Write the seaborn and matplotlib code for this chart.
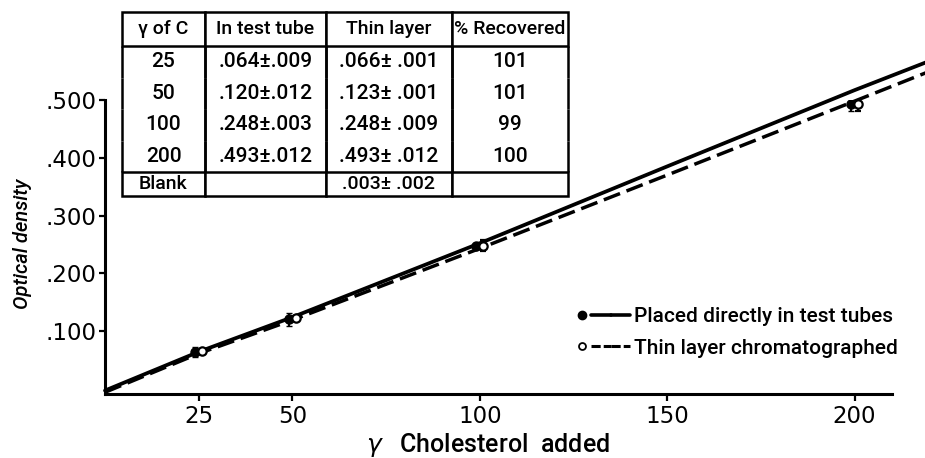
import matplotlib
matplotlib.use("Agg")
import matplotlib.pyplot as plt
import seaborn as sns
from matplotlib.lines import Line2D
from matplotlib.legend_handler import HandlerTuple
from matplotlib.transforms import ScaledTranslation

# measured values (table in the figure)
chol_added = [25, 50, 100, 200]
od_test_tube = [0.064, 0.120, 0.248, 0.493]
sd_test_tube = [0.009, 0.012, 0.003, 0.012]
od_thin_layer = [0.066, 0.123, 0.248, 0.493]
sd_thin_layer = [0.001, 0.001, 0.009, 0.012]
pct_recovered = [101, 101, 99, 100]
blank_thin_layer = [0.003, 0.002]

# hand-drawn lines
line_x = [0, 25, 50, 100, 150, 200, 219]
line_direct = [-0.003, 0.064, 0.124, 0.252, 0.385, 0.517, 0.565]
line_tlc = [-0.006, 0.061, 0.119, 0.243, 0.370, 0.498, 0.547]

xticks = [25, 50, 100, 150, 200]
yticks = [0.1, 0.2, 0.3, 0.4, 0.5]
ytick_labels = [".100", ".200", ".300", ".400", ".500"]

table_header = ["\u03b3 of C", "In test tube", "Thin layer", "% Recovered"]

narrow = ["Liberation Sans Narrow", "Roboto", "DejaVu Sans"]

sns.set_style("ticks")
plt.rcParams["font.family"] = ["DejaVu Sans"]
for k in ["text.color", "axes.labelcolor", "xtick.color", "ytick.color"]:
    plt.rcParams[k] = "black"

W, H = 925, 458
fig = plt.figure(figsize=(W / 100, H / 100), dpi=100)
ax = fig.add_axes([105 / W, 64 / H, 787 / W, 294 / H])

sns.lineplot(x=line_x, y=line_direct, ax=ax, color="black", lw=2.7, clip_on=False)
sns.lineplot(x=line_x, y=line_tlc, ax=ax, color="black", lw=2.5, dashes=(5, 2),
             clip_on=False)

left = ax.transData + ScaledTranslation(-3.5 / 100, 0, fig.dpi_scale_trans)
right = ax.transData + ScaledTranslation(3.5 / 100, 0, fig.dpi_scale_trans)
ax.errorbar(chol_added, od_test_tube, yerr=sd_test_tube, fmt="o", ms=6.5,
            color="black", mfc="black", capsize=2.5, elinewidth=1.6,
            transform=left, zorder=5)
ax.errorbar(chol_added, od_thin_layer, yerr=sd_thin_layer, fmt="o", ms=6,
            color="black", mfc="white", mew=1.6, capsize=2.5, elinewidth=1.6,
            transform=right, zorder=6)

ax.set_xlim(0, 210)
ax.set_ylim(-0.009, 0.5)
ax.set_xticks(xticks)
ax.set_yticks(yticks)
ax.set_yticklabels(ytick_labels)
ax.tick_params(axis="both", labelsize=16.5, width=1.6, color="black")
ax.tick_params(axis="x", length=5, pad=3)
ax.tick_params(axis="y", length=4, pad=2)
sns.despine(ax=ax)
for s in ["left", "bottom"]:
    ax.spines[s].set_linewidth(2.2)
    ax.spines[s].set_color("black")

ax.set_xlabel("$\\gamma$   Cholesterol  added", fontsize=18, family=narrow,
              weight=500)
ax.xaxis.set_label_coords(0.487, -0.125)
ax.set_ylabel("Optical density", fontsize=14.5, style="italic", family=narrow,
              weight=500)
ax.yaxis.set_label_coords(-0.093, 0.51)

# legend
dot = Line2D([], [], ls="none", marker="o", ms=6, color="black")
circ = Line2D([], [], ls="none", marker="o", ms=5, color="black", mfc="white", mew=1.3)
solid = Line2D([], [], color="black", lw=2.6)
dash = Line2D([], [], color="black", lw=2.2, dashes=(3, 1))
ax.legend([(dot, solid, solid), (circ, dash, dash)],
          ["Placed directly in test tubes", "Thin layer chromatographed"],
          handler_map={tuple: HandlerTuple(ndivide=None, pad=0)},
          loc="upper left", bbox_to_anchor=(572 / W, 1 - 307 / H),
          bbox_transform=fig.transFigure, frameon=False, handlelength=2.8,
          handletextpad=0.2, borderpad=0, borderaxespad=0, labelspacing=0.6,
          prop={"family": narrow, "size": 15, "weight": 500})

# table
rows = []
for c, a, sa, b, sb, p in zip(chol_added, od_test_tube, sd_test_tube,
                              od_thin_layer, sd_thin_layer, pct_recovered):
    rows.append([str(c), f"{a:.3f}\u00b1{sa:.3f}".replace("0.", "."),
                 f"{b:.3f}\u00b1 {sb:.3f}".replace("0.", "."), str(p)])
rows.append(["Blank", "", f"{blank_thin_layer[0]:.3f}\u00b1 {blank_thin_layer[1]:.3f}"
             .replace("0.", "."), ""])

tab_l, tab_r, tab_t, tab_b = 122, 568, 12, 196
tax = fig.add_axes([tab_l / W, 1 - tab_b / H, (tab_r - tab_l) / W, (tab_b - tab_t) / H])
tax.axis("off")
tbl = tax.table(cellText=rows, colLabels=table_header, cellLoc="center",
                bbox=[0, 0, 1, 1])
tbl.auto_set_font_size(False)
col_w = [83, 121, 126, 116]
n_rows = len(rows) + 1
for (r, c), cell in tbl.get_celld().items():
    cell.set_width(col_w[c])
    if r == 0:
        cell.set_height(34)
        cell.get_text().set_fontsize(14)
    elif r == n_rows - 1:
        cell.set_height(24)
        cell.visible_edges = "closed"
        cell.get_text().set_fontsize(14)
    else:
        cell.set_height(31.5)
        cell.visible_edges = "LR"
        cell.get_text().set_fontsize(15)
    cell.set_linewidth(1.8)
    cell.set_edgecolor("black")
    cell.get_text().set_family(narrow)
    cell.get_text().set_weight(500)
    cell.get_text().set_color("black")
    if r == n_rows - 1 and c == 0:
        cell._loc = "left"
        cell.PAD = 0.03

fig.savefig("out.png", dpi=100)
